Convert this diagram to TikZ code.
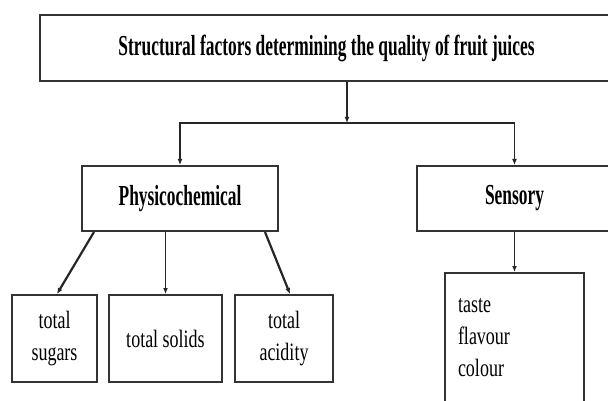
\documentclass[tikz,border=0pt]{standalone}
\usepackage{fontspec}
\setmainfont{Liberation Serif}
\newfontfamily\headfont{Liberation Serif}[FakeStretch=0.6]
\newfontfamily\itemfont{Liberation Serif}[FakeStretch=0.72]
\usetikzlibrary{arrows.meta}

\begin{document}
\begin{tikzpicture}[x=1pt,y=-1pt,
		factorbox/.style={draw=black!80,line width=2pt,inner sep=0pt,align=center},
		headbox/.style={factorbox,font=\headfont\bfseries\fontsize{29}{34}\selectfont},
		itembox/.style={factorbox,font=\itemfont\fontsize{25}{32}\selectfont},
		joinline/.style={draw=black!85,line width=1.5pt},
		arrowline/.style={-{Latex[length=6pt,width=5pt]}}]
		\useasboundingbox (0,0) rectangle (608,401);
		% boxes
		\node[headbox,minimum width=573pt,minimum height=66pt] (top) at (326.5,48) {Structural factors determining the quality of fruit juices};
		\node[headbox,minimum width=196pt,minimum height=65pt] (phys) at (180,198.5) {Physicochemical};
		\node[headbox,minimum width=196pt,minimum height=65pt] (sens) at (514.5,198.5) {Sensory};
		\node[itembox,minimum width=85pt,minimum height=87pt] (sugars) at (54.5,338.5) {total\\sugars};
		\node[itembox,minimum width=113pt,minimum height=87pt] (solids) at (165.5,338.5) {total solids};
		\node[itembox,minimum width=98pt,minimum height=87pt] (acidity) at (284,338.5) {total\\acidity};
		\node[itembox,minimum height=130pt,text width=113pt,inner xsep=13pt,align=left] (senslist) at (514.5,338) {taste\\flavour\\colour};
		% connectors
		\coordinate (split) at (347,123);
		\draw[joinline,arrowline] (split |- top.south) -- (split);
		\draw[joinline,arrowline] (split) -| (phys.north);
		\draw[joinline,arrowline] (split) -| (sens.north);
		\draw[joinline,arrowline] (sens.south) -- (senslist.north);
		\draw[joinline,arrowline,line width=2.2pt] ([xshift=13pt]phys.south west) -- ([xshift=2.5pt]sugars.north);
		\draw[joinline,arrowline] (phys.south -| solids.north) -- (solids.north);
		\draw[joinline,arrowline,line width=2.2pt] ([xshift=-14pt]phys.south east) -- ([xshift=6pt]acidity.north);
\end{tikzpicture}
\end{document}
